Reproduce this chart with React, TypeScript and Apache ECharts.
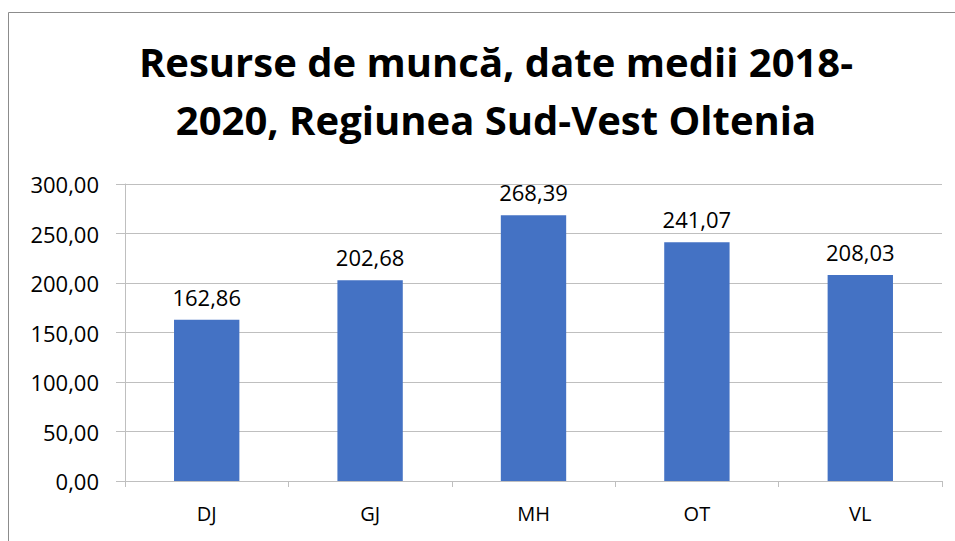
import React, { useEffect, useRef } from "react";
import * as echarts from "echarts";

const titleLines = ["Resurse de muncă, date medii 2018-", "2020, Regiunea Sud-Vest Oltenia"];
const categories = ["DJ", "GJ", "MH", "OT", "VL"];
const values = [162.86, 202.68, 268.39, 241.07, 208.03];
const yMin = 0;
const yMax = 300;
const yInterval = 50;

const fmt = (v: number) => v.toFixed(2).replace(".", ",");
const FONT = "'Open Sans', 'Noto Sans', sans-serif";

export default function App() {
  const ref = useRef<HTMLDivElement>(null);
  useEffect(() => {
    if (!ref.current) return;
    const chart = echarts.init(ref.current, null, { renderer: "svg" });
    chart.setOption({
      animation: false,
      backgroundColor: "#ffffff",
      title: {
        text: titleLines.join("\n"),
        left: 491,
        textAlign: "center",
        top: 27,
        textStyle: {
          fontFamily: FONT,
          fontWeight: "bold",
          fontSize: 40,
          lineHeight: 58,
          color: "#000000",
        },
      },
      graphic: [
        {
          type: "rect",
          shape: { x: 8.5, y: 12.5, width: 1000, height: 600 },
          style: { fill: "none", stroke: "#8c8c8c", lineWidth: 1 },
          silent: true,
          z: -1,
        },
      ],
      grid: { left: 125, right: 13, top: 184, bottom: 60, containLabel: false },
      xAxis: {
        type: "category",
        data: categories,
        axisLine: { show: true, lineStyle: { color: "#bfbfbf", width: 1 } },
        axisTick: { show: true, alignWithLabel: false, length: 6, lineStyle: { color: "#bfbfbf" } },
        axisLabel: { margin: 22, fontFamily: FONT, fontSize: 20, color: "#000000" },
      },
      yAxis: {
        type: "value",
        min: yMin,
        max: yMax,
        interval: yInterval,
        axisLine: { show: true, lineStyle: { color: "#bfbfbf", width: 1 } },
        axisTick: { show: true, length: 9, lineStyle: { color: "#bfbfbf" } },
        splitLine: { show: true, lineStyle: { color: "#bfbfbf", width: 1 } },
        axisLabel: {
          margin: 26,
          fontFamily: FONT,
          fontSize: 22,
          color: "#000000",
          formatter: (v: number) => fmt(v),
        },
      },
      series: [
        {
          type: "bar",
          data: values,
          barWidth: "40%",
          itemStyle: { color: "#4472c4" },
          label: {
            show: true,
            position: "top",
            distance: 12,
            fontFamily: FONT,
            fontSize: 22,
            color: "#000000",
            formatter: (p: any) => fmt(p.value),
          },
        },
      ],
    });
    return () => chart.dispose();
  }, []);
  return (
    <div
      ref={ref}
      style={{ position: "fixed", left: 0, top: 0, width: 955, height: 541, background: "#fff" }}
    />
  );
}
